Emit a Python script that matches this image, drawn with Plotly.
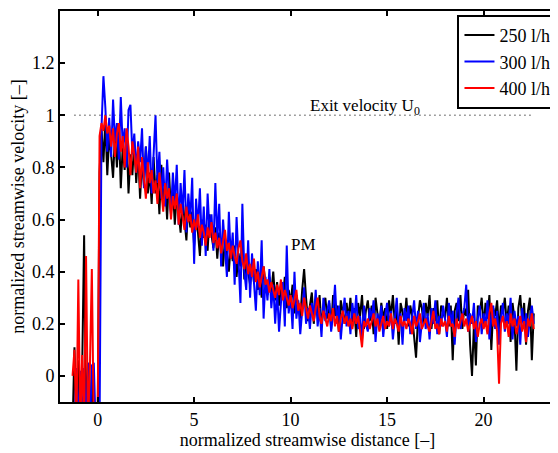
import numpy as np
import plotly.graph_objects as go

# streamwise positions (PIV sampling grid, step 0.1)
x = np.round(np.arange(-1.3, 22.65, 0.1), 2)

v250 = [
    -0.2, 0.11, -0.2, 0.06, -0.2, 0.03, 0.54, -0.2, 0.05, -0.2, 0.02, -0.2, -0.2,
    -0.2, 0.78, 0.95, 0.82, 0.98, 0.77, 0.92, 0.85, 0.76, 0.93,
    0.80, 0.96, 0.72, 0.88, 0.79, 0.93, 0.70, 0.85, 0.77, 0.90,
    0.74, 0.86, 0.68, 0.83, 0.73, 0.88, 0.70, 0.78, 0.66, 0.84,
    0.70, 0.77, 0.62, 0.81, 0.66, 0.74, 0.60, 0.78, 0.63, 0.72,
    0.58, 0.70, 0.62, 0.55, 0.68, 0.60, 0.52, 0.66, 0.57, 0.63,
    0.50, 0.61, 0.55, 0.46, 0.60, 0.53, 0.58, 0.48, 0.62, 0.54,
    0.49, 0.57, 0.45, 0.55, 0.50, 0.42, 0.53, 0.47, 0.40, 0.51,
    0.44, 0.50, 0.38, 0.47, 0.42, 0.52, 0.37, 0.45, 0.40, 0.35,
    0.44, 0.36, 0.41, 0.33, 0.39, 0.30, 0.42, 0.35, 0.31, 0.38,
    0.32, 0.40, 0.29, 0.36, 0.27, 0.34, 0.30, 0.38, 0.26, 0.33,
    0.28, 0.35, 0.24, 0.31, 0.27, 0.22, 0.33, 0.41, 0.30, 0.21,
    0.27, 0.32, 0.20, 0.29, 0.24, 0.31, 0.19, 0.26, 0.30, 0.22,
    0.28, 0.18, 0.31, 0.23, 0.27, 0.17, 0.29, 0.24, 0.20, 0.28,
    0.22, 0.30, 0.19, 0.26, 0.15, 0.28, 0.23, 0.31, 0.18, 0.25,
    0.29, 0.21, 0.27, 0.16, 0.30, 0.24, 0.19, 0.28, 0.22, 0.26,
    0.18, 0.29, 0.23, 0.31, 0.20, 0.26, 0.12, 0.28, 0.24, 0.21,
    0.30, 0.19, 0.27, 0.23, 0.15, 0.07, 0.22, 0.29, 0.26, 0.20,
    0.28, 0.23, 0.31, 0.18, 0.26, 0.21, 0.29, 0.16, 0.27, 0.24,
    0.22, 0.30, 0.19, 0.27, 0.06, 0.25, 0.28, 0.21, 0.31, 0.18,
    0.26, 0.23, 0.33, 0.12, 0.00, 0.20, 0.04, 0.27, 0.24, 0.30,
    0.19, 0.28, 0.22, 0.31, 0.10, 0.26, 0.23, 0.29, 0.17, 0.27,
    0.24, 0.30, 0.20, 0.27, 0.13, 0.28, 0.22, 0.02, 0.26, 0.31,
    0.21, 0.28, 0.12, 0.25, 0.30, 0.06, 0.24,
]

v300 = [
    -0.2, -0.2, 0.03, -0.2, 0.02, -0.2, 0.03, -0.2, 0.05, -0.2, 0.04, 0.05, -0.2,
    -0.2, -0.2, 0.95, 1.15, 1.03, 0.86, 0.99, 0.84, 1.06, 0.90,
    0.97, 0.83, 1.07, 0.88, 0.95, 0.80, 1.02, 1.04, 0.85, 0.93,
    0.78, 0.90, 0.82, 0.95, 0.72, 0.88, 0.76, 0.92, 0.70, 0.85,
    1.00, 0.74, 0.86, 0.68, 0.80, 0.65, 0.83, 0.70, 0.62, 0.78,
    0.66, 0.81, 0.58, 0.74, 0.62, 0.79, 0.55, 0.70, 0.60, 0.76,
    0.43, 0.68, 0.57, 0.72, 0.50, 0.65, 0.46, 0.70, 0.55, 0.62,
    0.48, 0.74, 0.52, 0.66, 0.42, 0.60, 0.50, 0.38, 0.63, 0.45,
    0.55, 0.35, 0.61, 0.42, 0.28, 0.66, 0.40, 0.33, 0.52, 0.30,
    0.47, 0.36, 0.25, 0.44, 0.31, 0.52, 0.22, 0.38, 0.29, 0.41,
    0.26, 0.35, 0.20, 0.33, 0.17, 0.28, 0.36, 0.19, 0.50, 0.24,
    0.31, 0.18, 0.40, 0.22, 0.29, 0.16, 0.27, 0.34, 0.20, 0.26,
    0.18, 0.28, 0.22, 0.33, 0.19, 0.26, 0.15, 0.30, 0.21, 0.25,
    0.29, 0.17, 0.24, 0.35, 0.20, 0.27, 0.14, 0.23, 0.30, 0.19,
    0.25, 0.16, 0.28, 0.21, 0.31, 0.18, 0.23, 0.14, 0.27, 0.20,
    0.17, 0.26, 0.22, 0.29, 0.13, 0.24, 0.19, 0.27, 0.15, 0.23,
    0.28, 0.19, 0.25, 0.14, 0.22, 0.30, 0.18, 0.24, 0.12, 0.26,
    0.21, 0.27, 0.16, 0.23, 0.29, 0.18, 0.25, 0.13, 0.22, 0.28,
    0.18, 0.24, 0.14, 0.26, 0.20, 0.29, 0.16, 0.23, 0.19, 0.27,
    0.22, 0.15, 0.28, 0.20, 0.25, 0.12, 0.24, 0.30, 0.18, 0.23,
    0.26, 0.35, 0.17, 0.24, 0.20, 0.28, 0.13, 0.22, 0.27, 0.16,
    0.24, 0.19, 0.29, 0.14, 0.23, 0.27, 0.18, 0.25, 0.12, 0.22,
    0.28, 0.17, 0.24, 0.20, 0.30, 0.14, 0.25, 0.19, 0.23, 0.12,
    0.26, 0.18, 0.24, 0.15, 0.22, 0.27, 0.20,
]

v400 = [
    0.00, 0.10, -0.2, 0.37, -0.2, 0.08, -0.2, 0.46, -0.2, 0.03, 0.41, -0.2, -0.2,
    -0.2, 0.92, 0.97, 0.94, 1.00, 0.93, 0.96, 0.88, 0.95, 0.84,
    0.93, 0.97, 0.86, 0.92, 0.80, 0.95, 0.88, 0.77, 0.90, 0.85,
    0.78, 0.88, 0.72, 0.84, 0.76, 0.68, 0.82, 0.74, 0.79, 0.70,
    0.75, 0.66, 0.78, 0.71, 0.63, 0.74, 0.68, 0.72, 0.60, 0.69,
    0.64, 0.70, 0.58, 0.66, 0.61, 0.56, 0.65, 0.59, 0.62, 0.55,
    0.60, 0.56, 0.62, 0.53, 0.58, 0.55, 0.50, 0.57, 0.53, 0.59,
    0.51, 0.55, 0.49, 0.53, 0.47, 0.52, 0.56, 0.48, 0.51, 0.45,
    0.50, 0.46, 0.43, 0.49, 0.52, 0.44, 0.41, 0.47, 0.39, 0.43,
    0.38, 0.45, 0.36, 0.40, 0.34, 0.38, 0.42, 0.35, 0.37, 0.32,
    0.36, 0.33, 0.30, 0.35, 0.31, 0.37, 0.29, 0.33, 0.30, 0.27,
    0.31, 0.26, 0.29, 0.33, 0.25, 0.28, 0.23, 0.30, 0.26, 0.22,
    0.27, 0.24, 0.21, 0.26, 0.30, 0.23, 0.20, 0.25, 0.22, 0.19,
    0.24, 0.21, 0.26, 0.19, 0.23, 0.17, 0.22, 0.25, 0.20, 0.23,
    0.19, 0.22, 0.18, 0.24, 0.20, 0.23, 0.17, 0.11, 0.21, 0.19,
    0.22, 0.18, 0.21, 0.24, 0.19, 0.22, 0.17, 0.20, 0.23, 0.18,
    0.21, 0.19, 0.24, 0.18, 0.22, 0.20, 0.17, 0.23, 0.19, 0.21,
    0.18, 0.22, 0.20, 0.16, 0.23, 0.19, 0.21, 0.24, 0.18, 0.20,
    0.22, 0.19, 0.17, 0.21, 0.25, 0.18, 0.20, 0.16, 0.22, 0.19,
    0.21, 0.17, 0.23, 0.19, 0.20, 0.15, 0.22, 0.18, 0.21, 0.24,
    0.19, 0.22, 0.17, 0.20, 0.23, 0.18, 0.21, 0.15, 0.20, 0.22,
    0.18, 0.21, 0.16, 0.24, 0.28, 0.19, 0.22, 0.17, -0.03, 0.20,
    0.23, 0.18, 0.21, 0.15, 0.24, 0.19, 0.22, 0.16, 0.20, 0.23,
    0.17, 0.21, 0.13, 0.22, 0.19, 0.24, 0.18,
]

series_names = ["250 l/h", "300 l/h", "400 l/h"]
series_colors = ["#000000", "#0000ff", "#ff0000"]

u0_x = [-1.2, 22.5]
u0_y = [1.0, 1.0]

xticks = [0, 5, 10, 15, 20]
yticks = [0, 0.2, 0.4, 0.6, 0.8, 1.0, 1.2]
ytick_labels = ["0", "0.2", "0.4", "0.6", "0.8", "1", "1.2"]

FONT = "Liberation Serif, Times New Roman, serif"

fig = go.Figure()
fig.add_trace(go.Scatter(x=u0_x, y=u0_y, mode="lines", showlegend=False,
                         line=dict(color="#444444", width=1.3, dash="1px,4px"),
                         hoverinfo="skip"))
for name, col, vals in zip(series_names, series_colors, [v250, v300, v400]):
    fig.add_trace(go.Scatter(x=x, y=vals, mode="lines", name=name,
                             line=dict(color=col, width=2)))

fig.add_annotation(x=10.9, y=1.0, xref="x", yref="y", text="Exit velocity U<sub>0</sub>",
                   showarrow=False, xanchor="left", yanchor="bottom", yshift=-5,
                   font=dict(family=FONT, size=17, color="black"))
fig.add_annotation(x=10.66, y=0.505, xref="x", yref="y", text="PM",
                   showarrow=False, xanchor="center", yanchor="middle",
                   font=dict(family=FONT, size=17, color="black"))

axis_common = dict(showline=True, linecolor="black", linewidth=2, mirror="ticks",
                   ticks="inside", ticklen=5, tickwidth=1.5, tickcolor="black",
                   showgrid=False, zeroline=False,
                   tickfont=dict(family=FONT, size=18, color="black"))

fig.update_xaxes(range=[-1.95, 23.7], tickvals=xticks,
                 title=dict(text="normalized streamwise distance [–]", standoff=2,
                            font=dict(family=FONT, size=18, color="black")),
                 **axis_common)
fig.update_yaxes(range=[-0.1, 1.4], tickvals=yticks, ticktext=ytick_labels,
                 title=dict(text="normalized streamwise velocity [–]", standoff=5,
                            font=dict(family=FONT, size=18, color="black")),
                 **axis_common)

fig.update_layout(
    width=550, height=445,
    margin=dict(l=52, r=1, t=1, b=51),
    plot_bgcolor="white", paper_bgcolor="white",
    legend=dict(x=1.005, xanchor="right", y=0.99, yanchor="top",
                bordercolor="black", borderwidth=2, bgcolor="white",
                font=dict(family=FONT, size=18, color="black"),
                itemwidth=30, tracegroupgap=0),
    showlegend=True,
)

fig.write_html("out.html")
